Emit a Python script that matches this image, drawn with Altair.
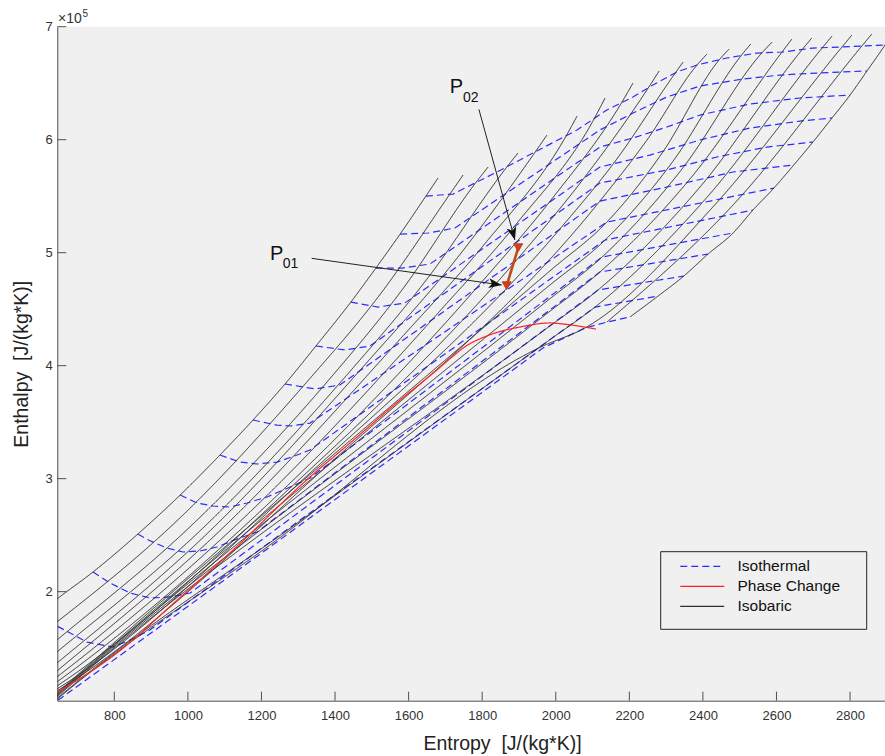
import math
import altair as alt
import pandas as pd

# ------------------------------------------------------------------ data
# Entropy s [J/(kg*K)] and enthalpy h [x 1e5 J/kg] along each isobar,
# from the highest pressure (left) to the lowest pressure (right).
isobar_s = [
    [544, 609, 644, 742, 864, 979, 1087, 1177, 1264, 1348, 1443, 1511, 1577, 1647, 1680],
    [598, 644, 984, 1321, 1519, 1718, 1748],
    [598, 644, 1011, 1378, 1582, 1786, 1816],
    [598, 644, 1038, 1432, 1650, 1867, 1897],
    [598, 644, 1068, 1495, 1721, 1946, 1976],
    [598, 644, 1109, 1577, 1802, 2028, 2058],
    [598, 644, 1163, 1685, 1895, 2104, 2134],
    [598, 644, 1218, 1794, 1987, 2180, 2210],
    [598, 644, 1272, 1903, 2077, 2253, 2281],
    [598, 644, 1326, 2011, 2166, 2319, 2346],
    [598, 644, 1378, 2120, 2248, 2384, 2411],
    [598, 644, 1990, 2139, 2291, 2444, 2471],
    [598, 644, 1984, 2134, 2319, 2503, 2530],
    [598, 644, 1977, 2126, 2343, 2560, 2588],
    [598, 644, 1973, 2120, 2367, 2615, 2642],
    [598, 644, 1968, 2115, 2392, 2669, 2696],
    [598, 644, 1305, 1986, 2107, 2414, 2724, 2751],
    [598, 644, 1223, 1965, 2079, 2427, 2778, 2805],
    [2139, 2487, 2832, 2859],
    [2202, 2278, 2348, 2414, 2482, 2536, 2593, 2647, 2699, 2751, 2800, 2846, 2895, 2916],
]
isobar_h = [
    [1.687, 1.846, 1.935, 2.174, 2.510, 2.855, 3.209, 3.519, 3.838, 4.174, 4.563, 4.864, 5.165, 5.501, 5.661],
    [1.616, 1.732, 2.670, 3.847, 4.616, 5.546, 5.687],
    [1.448, 1.572, 2.590, 3.855, 4.670, 5.634, 5.758],
    [1.342, 1.466, 2.554, 3.917, 4.767, 5.758, 5.882],
    [1.245, 1.368, 2.563, 4.059, 4.908, 5.900, 6.041],
    [1.174, 1.298, 2.608, 4.236, 5.059, 6.032, 6.209],
    [1.130, 1.245, 2.687, 4.484, 5.263, 6.183, 6.369],
    [1.094, 1.201, 2.776, 4.723, 5.466, 6.333, 6.501],
    [1.068, 1.165, 2.900, 4.971, 5.661, 6.466, 6.608],
    [1.050, 1.139, 3.032, 5.209, 5.829, 6.563, 6.687],
    [1.032, 1.121, 3.112, 5.457, 5.997, 6.661, 6.758],
    [0.970, 1.103, 4.855, 5.271, 5.891, 6.705, 6.802],
    [0.962, 1.094, 4.714, 5.112, 5.811, 6.740, 6.847],
    [0.953, 1.086, 4.574, 4.962, 5.740, 6.767, 6.864],
    [0.944, 1.077, 4.454, 4.829, 5.661, 6.776, 6.891],
    [0.935, 1.068, 4.313, 4.670, 5.581, 6.794, 6.900],
    [0.926, 1.054, 2.625, 4.235, 4.519, 5.501, 6.811, 6.917],
    [0.917, 1.046, 2.413, 4.174, 4.333, 5.404, 6.820, 6.926],
    [4.386, 5.440, 6.829, 6.935],
    [4.431, 4.616, 4.793, 4.988, 5.174, 5.377, 5.572, 5.776, 5.979, 6.192, 6.395, 6.608, 6.838, 6.944],
]

# Isotherms, from the coldest (lower boundary) to the hottest.
isotherm_s = [
    [598, 644, 1223, 1965, 2079, 2139, 2202],
    [609, 644, 726, 796, 843, 897, 1305, 2107, 2278],
    [742, 788, 843, 897, 951, 1006, 2115, 2348],
    [864, 897, 943, 987, 1033, 1079, 1133, 1188, 2120, 2414],
    [979, 1025, 1068, 1114, 1161, 1215, 1278, 1332, 2126, 2482],
    [1087, 1142, 1188, 1242, 1297, 1332, 2134, 2536],
    [1177, 1242, 1278, 1332, 2139, 2593],
    [1264, 1346, 1413, 2120, 2302, 2482, 2647],
    [1348, 1427, 1495, 2120, 2302, 2438, 2574, 2699],
    [1443, 1517, 1590, 2120, 2256, 2392, 2528, 2664, 2751],
    [1511, 1582, 1658, 2120, 2210, 2302, 2392, 2528, 2664, 2800],
    [1577, 1653, 1726, 2120, 2210, 2302, 2392, 2509, 2609, 2710, 2846],
    [1647, 1721, 1840, 1938, 2058, 2139, 2210, 2264, 2329, 2384, 2465, 2547, 2617, 2699, 2772, 2895],
]
isotherm_h = [
    [0.926, 1.032, 2.395, 4.156, 4.333, 4.386, 4.431],
    [1.846, 1.696, 1.554, 1.510, 1.572, 1.661, 2.634, 4.519, 4.616],
    [2.174, 2.077, 1.988, 1.944, 1.953, 1.988, 4.670, 4.793],
    [2.510, 2.450, 2.386, 2.351, 2.360, 2.395, 2.466, 2.528, 4.829, 4.988],
    [2.855, 2.785, 2.758, 2.749, 2.785, 2.838, 2.926, 3.006, 4.962, 5.174],
    [3.209, 3.147, 3.130, 3.147, 3.209, 3.254, 5.112, 5.377],
    [3.519, 3.474, 3.466, 3.492, 5.271, 5.572],
    [3.838, 3.794, 3.829, 5.457, 5.581, 5.714, 5.776],
    [4.174, 4.139, 4.174, 5.616, 5.732, 5.847, 5.935, 5.979],
    [4.563, 4.519, 4.555, 5.758, 5.864, 5.997, 6.103, 6.165, 6.192],
    [4.864, 4.864, 4.900, 5.935, 6.015, 6.112, 6.218, 6.316, 6.369, 6.395],
    [5.165, 5.174, 5.219, 6.086, 6.236, 6.378, 6.475, 6.537, 6.572, 6.590, 6.608],
    [5.501, 5.519, 5.714, 5.882, 6.086, 6.263, 6.378, 6.484, 6.599, 6.661, 6.723,
     6.767, 6.776, 6.811, 6.820, 6.838],
]

# Phase change line
phase_s = [640, 807, 965, 1123, 1332, 1441, 1577, 1677, 1718, 1756, 1802, 1848, 1895, 1984, 2030, 2109]
phase_h = [1.100, 1.457, 1.908, 2.369, 3.015, 3.316, 3.696, 3.962, 4.077, 4.174, 4.249, 4.302,
           4.337, 4.378, 4.365, 4.324]

# Process states P01 -> P02
state_names = ["P01", "P02"]
state_s = [1866.5, 1898.0]
state_h = [4.708, 5.044]

# Callout texts ("P" with a subscript) and their arrows (tail -> tip)
callout_main = ["P", "P"]
callout_sub = ["01", "02"]
callout_s = [1223, 1712]
callout_h = [4.935, 6.413]
callout_sub_s = [1258, 1748]
callout_sub_h = [4.864, 6.333]
arrow_tail_s = [1336.5, 1791]
arrow_tail_h = [4.950, 6.269]
arrow_tip_s = [1853, 1889]
arrow_tip_h = [4.714, 5.112]

x_ticks = [800, 1000, 1200, 1400, 1600, 1800, 2000, 2200, 2400, 2600, 2800]
y_ticks = [2, 3, 4, 5, 6, 7]

kinds = ["Isothermal", "Phase Change", "Isobaric"]

# ------------------------------------------------------------------ layout
W, H = 827.7, 674.0
S_DOM = [645, 2895]
H_DOM = [1.035, 7.0]
AXIS_GRAY = "#505050"
TEXT_GRAY = "#333333"
FONT = "Liberation Sans"
NBSP2 = "\u00a0\u00a0"


def family(s_lists, h_lists, kind, prefix):
    rows = []
    for i, (ss, hh) in enumerate(zip(s_lists, h_lists)):
        for j, (s, h) in enumerate(zip(ss, hh)):
            rows.append({"curve": f"{prefix}{i}", "order": j, "s": s, "h": h, "kind": kind})
    return pd.DataFrame(rows)


isobars = family(isobar_s, isobar_h, "Isobaric", "p")
isotherms = family(isotherm_s, isotherm_h, "Isothermal", "t")
phase = family([phase_s], [phase_h], "Phase Change", "ph")

states = pd.DataFrame({"name": state_names, "s": state_s, "h": state_h})
mains = pd.DataFrame({"label": callout_main, "s": callout_s, "h": callout_h})
subs = pd.DataFrame({"label": callout_sub, "s": callout_sub_s, "h": callout_sub_h})

# arrowhead orientation follows each arrow's on-screen direction
sx = W / (S_DOM[1] - S_DOM[0])
hy = H / (H_DOM[1] - H_DOM[0])
angles = []
for ts, th, ps, ph in zip(arrow_tail_s, arrow_tail_h, arrow_tip_s, arrow_tip_h):
    dx = (ps - ts) * sx
    dy = -(ph - th) * hy
    angles.append(math.degrees(math.atan2(dx, -dy)) % 360)
arrows = pd.DataFrame({"s": arrow_tail_s, "h": arrow_tail_h,
                       "s2": arrow_tip_s, "h2": arrow_tip_h})
heads = pd.DataFrame({"s": arrow_tip_s, "h": arrow_tip_h, "angle": angles})

x_scale = alt.Scale(domain=S_DOM, nice=False, zero=False)
y_scale = alt.Scale(domain=H_DOM, nice=False, zero=False)

X = alt.X("s:Q", scale=x_scale,
          axis=alt.Axis(values=x_ticks, format="d", ticks=False, grid=False,
                        labelPadding=9, title="Entropy" + NBSP2 + "[J/(kg*K)]",
                        titleX=444.7, titleY=48.3, titleAlign="center",
                        titleBaseline="alphabetic", titleAngle=0))
Y = alt.Y("h:Q", scale=y_scale,
          axis=alt.Axis(values=y_ticks, format="d", ticks=False, grid=False,
                        labelPadding=5, title="Enthalpy" + NBSP2 + "[J/(kg*K)]",
                        titleX=-30.3, titleY=H / 2, titleAlign="center",
                        titleBaseline="alphabetic", titleAngle=270))

legend = alt.Legend(orient="none", legendX=637.2, legendY=532, title=None,
                    symbolType="M-4,0L4,0", symbolSize=121, symbolStrokeWidth=1.3,
                    labelFontSize=15.5, labelColor="#111111", labelFont=FONT,
                    labelOffset=27.5, rowPadding=3, padding=0)
color = alt.Color("kind:N", scale=alt.Scale(domain=kinds, range=["#2b2bff", "#ff2020", "#2e2e2e"]),
                  legend=legend)
dash = alt.StrokeDash("kind:N", scale=alt.Scale(domain=kinds, range=[[7, 4], [1, 0], [1, 0]]),
                      legend=legend)

iso_t = alt.Chart(isotherms).mark_line(strokeWidth=1.2, clip=True).encode(
    x=X, y=Y, color=color, strokeDash=dash, detail="curve:N", order="order:Q")
iso_p = alt.Chart(isobars).mark_line(strokeWidth=1.0, clip=True, interpolate="monotone").encode(
    x=X, y=Y, color=color, strokeDash=dash, detail="curve:N", order="order:Q")
phase_line = alt.Chart(phase).mark_line(strokeWidth=1.2, clip=True, interpolate="monotone").encode(
    x=X, y=Y, color=color, strokeDash=dash, detail="curve:N", order="order:Q")

process = alt.Chart(states).mark_line(color="#c04a18", strokeWidth=2.6).encode(x=X, y=Y)
markers = alt.Chart(states).mark_point(shape="triangle-down", filled=True, size=80,
                                       fill="#dd3a1c", stroke="#b4451a", strokeWidth=1,
                                       opacity=1).encode(x=X, y=Y)

arrow_lines = alt.Chart(arrows).mark_rule(color="#222222", strokeWidth=1).encode(
    x=X, y=Y, x2="s2:Q", y2="h2:Q")
arrow_heads = alt.Chart(heads).mark_point(shape="M0,0L-0.75,2L0,1.5L0.75,2Z", filled=True,
                                          size=169, color="#111111", opacity=1).encode(
    x=X, y=Y, angle=alt.Angle("angle:Q", scale=None))

text_main = alt.Chart(mains).mark_text(align="left", baseline="alphabetic", fontSize=20,
                                       font=FONT, color="#111111").encode(x=X, y=Y, text="label:N")
text_sub = alt.Chart(subs).mark_text(align="left", baseline="alphabetic", fontSize=14,
                                     font=FONT, color="#111111").encode(x=X, y=Y, text="label:N")

# inward tick marks
xt = alt.Chart(pd.DataFrame({"s": x_ticks})).mark_rule(color=AXIS_GRAY, strokeWidth=1).encode(
    x=X, y=alt.value(H), y2=alt.value(H - 9))
yt = alt.Chart(pd.DataFrame({"h": y_ticks})).mark_rule(color=AXIS_GRAY, strokeWidth=1).encode(
    y=Y, x=alt.value(0), x2=alt.value(9))

one = pd.DataFrame({"k": [0]})
legend_box = alt.Chart(one).mark_rect(fill="#f0f0f0", stroke="#262626", strokeWidth=1).encode(
    x=alt.value(603.4), x2=alt.value(809.4), y=alt.value(525), y2=alt.value(602.6))

# axis multiplier above the y axis
exp_base = alt.Chart(one).mark_text(align="left", baseline="alphabetic", fontSize=14,
                                    font=FONT, color=TEXT_GRAY).encode(
    x=alt.value(0.7), y=alt.value(-3.4), text=alt.value("\u00d710"))
exp_pow = alt.Chart(one).mark_text(align="left", baseline="alphabetic", fontSize=10,
                                   font=FONT, color=TEXT_GRAY).encode(
    x=alt.value(25.2), y=alt.value(-10), text=alt.value("5"))

chart = alt.layer(
    iso_t, iso_p, phase_line, process, markers, arrow_lines, arrow_heads,
    text_main, text_sub, xt, yt, legend_box, exp_base, exp_pow,
).properties(
    width=W, height=H,
    padding={"left": 57.3, "top": 26.7, "right": 0, "bottom": 55.3},
    autosize=alt.AutoSizeParams(type="none"),
).configure(
    font=FONT,
).configure_view(
    fill="#f0f0f0", strokeWidth=0,
).configure_axis(
    domainColor=AXIS_GRAY, domainWidth=1, labelColor=TEXT_GRAY, labelFontSize=13,
    labelFont=FONT, titleFont=FONT, titleFontSize=19.5, titleFontWeight="normal",
    titleColor="#222222",
)

chart.save("out.html", embed_options={"renderer": "svg", "actions": False})
